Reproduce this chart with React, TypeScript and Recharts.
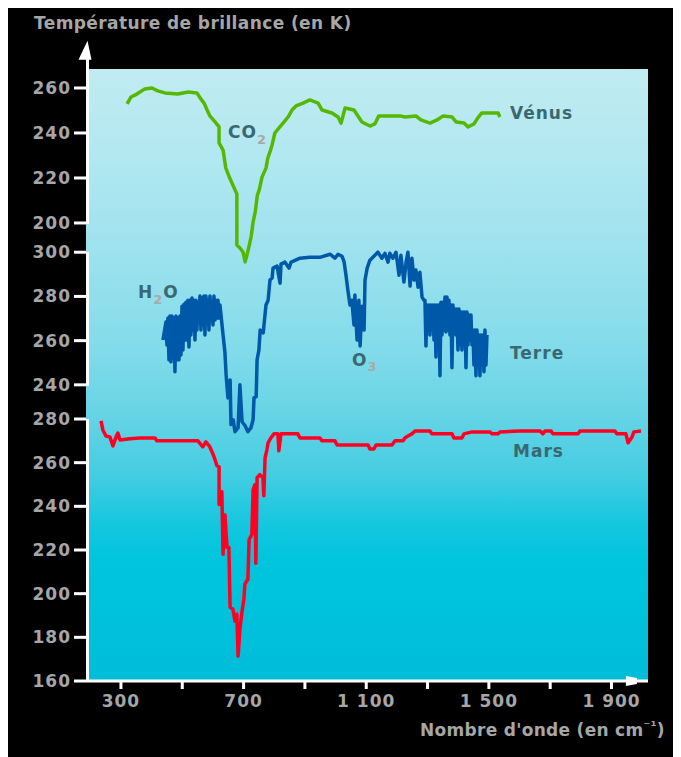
import {
  CartesianGrid,
  Line,
  LineChart,
  ReferenceLine,
  XAxis,
  YAxis,
} from "recharts";

const WIDTH = 681;
const HEIGHT = 757;
// plot area: x 86..648, y 69..681
const MARGIN = { top: 69, right: 33, bottom: 46, left: 26 };
const X_DOMAIN: [number, number] = [186, 2019];

const xTicks = [300, 500, 700, 900, 1100, 1300, 1500, 1700, 1900];
const xTickLabels: Record<number, string> = {
  300: "300",
  700: "700",
  1100: "1 100",
  1500: "1 500",
  1900: "1 900",
};

const venusTicks = [200, 220, 240, 260];
const terreTicks = [240, 260, 280, 300];
const marsTicks = [160, 180, 200, 220, 240, 260, 280];

// each curve sits on its own temperature scale
const venusDomain: [number, number] = [-3.56, 268.44];
const terreDomain: [number, number] = [106, 382.9];
const marsDomain: [number, number] = [160, 440.3];

const venusWn = [
  320, 333, 352, 378, 401, 420, 443, 486, 519, 548, 558, 571, 581, 590, 607,
  620, 620, 633, 642, 652, 662, 672, 678, 678, 688, 698, 705, 711, 718, 725,
  731, 738, 745, 751, 760, 773, 779, 786, 793, 802, 815, 832, 845, 858, 871,
  894, 916, 943, 956, 988, 1008, 1018, 1031, 1060, 1073, 1086, 1112, 1128,
  1141, 1210, 1226, 1262, 1278, 1308, 1331, 1351, 1380, 1393, 1419, 1432,
  1451, 1464, 1477, 1530, 1536,
];
const venusK = [
  252.9, 256.0, 257.3, 259.6, 260, 258.7, 257.8, 257.3, 258.2, 257.8, 255.6,
  253.3, 250.2, 247.6, 244.9, 242.7, 235.6, 232.4, 224.4, 220.9, 217.8, 214.7,
  212.9, 190.2, 188.9, 187.1, 182.7, 185.8, 189.8, 194.2, 200.4, 204.9, 212.4,
  214.7, 220.4, 224.4, 228.9, 231.6, 234.7, 240, 242.2, 244.9, 247.1, 250.2,
  252, 253.3, 254.7, 253.3, 250.2, 248.9, 247.1, 244.4, 251.1, 250.2, 247.6,
  244.9, 243.1, 244, 247.6, 247.6, 247.1, 247.6, 245.8, 244.4, 245.8, 247.6,
  247.1, 244.9, 244.4, 242.7, 244, 246.7, 248.9, 248.9, 247.1,
];

const terreWn = [
  437, 446.8, 450.0, 453.3, 456.6, 459.8, 463.1, 466.3, 469.6, 472.9, 476.1,
  479.4, 482.7, 485.9, 489.2, 492.4, 495.7, 499.0, 502.2, 505.5, 508.7, 512.0,
  515.3, 518.5, 521.8, 525.1, 528.3, 531.6, 534.8, 538.1, 541.4, 544.6, 547.9,
  551.1, 554.4, 557.7, 560.9, 564.2, 567.5, 570.7, 574.0, 577.2, 580.5, 583.8,
  587.0, 590.3, 593.5, 596.8, 600.1, 603.3, 606.6, 609.8, 613.1, 616.4, 619.6,
  622.9, 633, 639, 643, 649, 656, 659, 666, 672, 682, 688, 695, 705, 714, 724,
  731, 734, 741, 744, 750, 754, 764, 773, 780, 786, 793, 796, 809, 819, 822,
  835, 848, 855, 884, 916, 949, 982, 998, 1008, 1021, 1028, 1034, 1040, 1047,
  1053, 1060, 1063, 1070, 1076, 1080, 1086, 1093, 1096, 1103, 1112, 1125,
  1138, 1151, 1161, 1171, 1177, 1187, 1197, 1207, 1213, 1223, 1230, 1236,
  1243, 1249, 1256, 1262, 1269, 1275, 1282, 1288, 1291.5, 1294.8, 1298.0,
  1301.3, 1304.6, 1307.8, 1311.1, 1314.4, 1317.6, 1320.9, 1324.1, 1327.4,
  1330.7, 1333.9, 1337.2, 1340.5, 1343.7, 1347.0, 1350.2, 1353.5, 1356.8,
  1360.0, 1363.3, 1366.5, 1369.8, 1373.1, 1376.3, 1379.6, 1382.9, 1386.1,
  1389.4, 1392.6, 1395.9, 1399.2, 1402.4, 1405.7, 1409.0, 1412.2, 1415.5,
  1418.7, 1422.0, 1425.3, 1428.5, 1431.8, 1435.0, 1438.3, 1441.6, 1444.8,
  1448.1, 1451.3, 1454.6, 1457.9, 1461.1, 1464.4, 1467.7, 1470.9, 1474.2,
  1477.4, 1480.7, 1484.0, 1487.2, 1490.5, 1493.8,
];
const terreK = [
  260.3, 268.4, 258.0, 270.2, 251.3, 271.1, 250.4, 271.1, 252.2, 270.2, 245.9,
  271.1, 251.3, 270.2, 251.3, 271.1, 253.5, 275.6, 255.8, 276.5, 260.3, 277.4,
  260.3, 278.3, 257.1, 278.3, 262.6, 279.3, 264.8, 278.3, 260.3, 278.3, 264.8,
  277.4, 269.3, 280.2, 264.8, 279.3, 267.1, 280.2, 262.6, 280.2, 268.4, 278.3,
  264.8, 280.2, 271.1, 277.4, 267.1, 280.2, 269.3, 278.3, 270.2, 278.3, 270.2,
  276.1, 262.6, 254.9, 244.5, 234.1, 242.2, 222, 224.2, 218.8, 220.6, 240,
  223.3, 221.5, 218.8, 220.6, 224.2, 234.1, 234.6, 251.3, 255.8, 264.8, 263.5,
  276.1, 278.3, 287.4, 288.3, 292.8, 293.7, 286, 294.6, 295.5, 292.8, 295.5,
  297.3, 297.7, 297.7, 299.1, 297.3, 299.1, 298.2, 295.5, 289.6, 282.9, 276.1,
  278.3, 267.1, 280.6, 260.3, 278.3, 257.6, 275.6, 264.8, 287.4, 292.8, 296.4,
  298.2, 300, 297.3, 299.5, 295.5, 299.5, 297.3, 300, 289.6, 298.6, 286.5,
  295.5, 300, 284.7, 297.3, 287.4, 292, 284.2, 290.9, 279.7, 278.3, 278.3,
  257.6, 276.1, 264.8, 276.1, 262.6, 276.1, 264.8, 276.1, 260.3, 276.1, 252.6,
  276.1, 262.6, 276.1, 244.1, 277.4, 262.6, 277.4, 264.8, 279.7, 263.9, 279.7,
  264.8, 278.3, 262.6, 276.1, 247.7, 276.1, 264.8, 274.3, 262.6, 274.3, 255.8,
  274.3, 258.1, 272.9, 255.8, 272.9, 260.3, 272.9, 247.7, 272.9, 258.1, 271.6,
  260.3, 271.6, 258.1, 264.8, 249.0, 264.8, 244.1, 264.8, 249.0, 262.6, 244.1,
  262.6, 249.0, 262.6, 245.9, 264.8, 249.0, 262.6,
];

const marsWn = [
  235, 241, 251, 264, 274, 284, 290, 297, 329, 362, 411, 417, 551, 567, 577,
  590, 600, 607, 613, 620, 620, 629, 633, 639, 646, 652, 656, 665, 672, 678,
  682, 688, 695, 701, 704, 714, 718, 727, 731, 737, 740, 744, 753, 763, 766,
  770, 776, 780, 789, 799, 812, 815, 822, 877, 884, 949, 956, 998, 1005, 1106,
  1112, 1125, 1132, 1184, 1194, 1220, 1226, 1236, 1249, 1259, 1308, 1314, 1380,
  1386, 1412, 1419, 1445, 1504, 1510, 1530, 1536, 1601, 1667, 1676, 1683, 1703,
  1709, 1791, 1797, 1911, 1918, 1947, 1954, 1967, 1973, 1996,
];
const marsK = [
  279.1, 275, 272.2, 271.8, 267.7, 271.8, 273.6, 270.4, 270.9, 271.3, 271.3,
  270, 270, 267.2, 269.5, 267.2, 264, 261.3, 258.6, 258.1, 240.8, 246.7, 218,
  236.2, 221.2, 221.2, 193.8, 192.9, 187.4, 190.6, 171.4, 183.7, 192, 197.4,
  204.3, 206.6, 224.8, 227.1, 247.6, 249.9, 213.9, 253.1, 254.5, 253.1, 244.9,
  262.2, 265.9, 269.1, 271.3, 273.2, 273.2, 265.4, 273.2, 273.2, 271.3, 271.3,
  270, 270, 268.1, 268.1, 266.3, 266.3, 268.1, 268.1, 270, 270, 271.3, 272.2,
  273.2, 274.5, 274.5, 273.2, 273.2, 271.3, 271.3, 273.2, 274.1, 274.1, 273.2,
  273.2, 274.1, 274.5, 274.5, 273.2, 274.5, 274.5, 273.2, 273.2, 274.5, 274.5,
  273.2, 273.2, 269.1, 271.8, 274.1, 274.5,
];

const toRows = (wn: number[], k: number[]) =>
  wn.map((w, i) => ({ wn: w, k: k[i] }));

const AXIS_GREY = "#a6a6a6";
const LABEL_INK = "#3a6870";
const SUB_GREY = "#a9a9a9";

// white vertical axis piece, optionally capped with an arrow head
function AxisPiece(props: any) {
  const { x1, y1, y2, arrow } = props;
  const x = x1 + 1.5;
  const top = Math.min(y1, y2);
  const bottom = Math.max(y1, y2);
  if (!arrow) {
    return <line x1={x} y1={top} x2={x} y2={bottom + 1} stroke="#fff" strokeWidth={3} />;
  }
  return (
    <g>
      <line x1={x} y1={top + 18} x2={x} y2={bottom + 1} stroke="#fff" strokeWidth={3} />
      <polygon
        points={`${x},${top} ${x - 9},${top + 19} ${x + 4},${top + 19}`}
        fill="#fff"
      />
    </g>
  );
}

function XArrow(props: any) {
  const { x1, x2, y1 } = props;
  return (
    <polygon
      points={`${x1},${y1 - 5} ${x2},${y1 - 3} ${x2},${y1 + 3} ${x1},${y1 + 5}`}
      fill="#fff"
    />
  );
}

interface PanelProps {
  rows: { wn: number; k: number }[];
  color: string;
  domain: [number, number];
  ticks: number[];
  axisFrom: number;
  axisTo: number;
  arrow?: boolean;
  base?: boolean;
}

function Panel({ rows, color, domain, ticks, axisFrom, axisTo, arrow, base }: PanelProps) {
  return (
    <div style={{ position: "absolute", left: 0, top: 0 }}>
      <LineChart width={WIDTH} height={HEIGHT} data={rows} margin={MARGIN}>
        <defs>
          <linearGradient id="sky" x1="0" y1="0" x2="0" y2="1">
            <stop offset="0%" stopColor="#c1ebf1" />
            <stop offset="13%" stopColor="#b3e8f1" />
            <stop offset="30%" stopColor="#9de2ee" />
            <stop offset="46%" stopColor="#82dbea" />
            <stop offset="57%" stopColor="#64d3e5" />
            <stop offset="66%" stopColor="#46cde2" />
            <stop offset="74%" stopColor="#16c7df" />
            <stop offset="80%" stopColor="#00c5dd" />
            <stop offset="100%" stopColor="#00bdd9" />
          </linearGradient>
        </defs>
        {base && (
          <CartesianGrid horizontal={false} vertical={false} fill="url(#sky)" />
        )}
        {base ? (
          <XAxis
            type="number"
            dataKey="wn"
            domain={X_DOMAIN}
            allowDataOverflow
            ticks={xTicks}
            interval={0}
            height={30}
            tickFormatter={(v: number) => xTickLabels[v] ?? ""}
            axisLine={{ stroke: "#fff", strokeWidth: 3 }}
            tickLine={{ stroke: "#fff", strokeWidth: 3 }}
            tickSize={8}
            tickMargin={6}
            tick={{ fill: AXIS_GREY, fontSize: 17 }}
          />
        ) : (
          <XAxis
            type="number"
            dataKey="wn"
            domain={X_DOMAIN}
            allowDataOverflow
            height={30}
            tick={false}
            tickLine={false}
            axisLine={false}
          />
        )}
        <YAxis
          type="number"
          domain={domain}
          allowDataOverflow
          ticks={ticks}
          interval={0}
          width={60}
          axisLine={false}
          tickLine={{ stroke: "#fff", strokeWidth: 3 }}
          tickSize={12}
          tickMargin={3}
          tick={{ fill: AXIS_GREY, fontSize: 17 }}
        />
        <ReferenceLine
          segment={[
            { x: X_DOMAIN[0], y: axisFrom },
            { x: X_DOMAIN[0], y: axisTo },
          ]}
          ifOverflow="visible"
          shape={(p: any) => <AxisPiece {...p} arrow={arrow} />}
        />
        {base && (
          <ReferenceLine
            segment={[
              { x: 1947, y: domain[0] },
              { x: 1983, y: domain[0] },
            ]}
            ifOverflow="visible"
            shape={(p: any) => <XArrow {...p} />}
          />
        )}
        <Line
          type="linear"
          dataKey="k"
          stroke={color}
          strokeWidth={3.5}
          strokeLinejoin="round"
          dot={false}
          isAnimationActive={false}
        />
      </LineChart>
    </div>
  );
}

export default function App() {
  return (
    <div
      style={{
        position: "relative",
        width: WIDTH,
        height: HEIGHT,
        margin: "-8px 0 0 -8px",
        background: "#fff",
        fontFamily: "'DejaVu Sans', sans-serif",
        fontWeight: 700,
        letterSpacing: "1px",
        overflow: "hidden",
      }}
    >
      <div
        style={{
          position: "absolute",
          left: 7,
          top: 5,
          width: WIDTH - 7,
          height: HEIGHT - 5,
          background: "#000",
        }}
      />
      <Panel
        rows={toRows(marsWn, marsK)}
        color="#ff0022"
        domain={marsDomain}
        ticks={marsTicks}
        axisFrom={160}
        axisTo={280}
        base
      />
      <Panel
        rows={toRows(terreWn, terreK)}
        color="#0058a8"
        domain={terreDomain}
        ticks={terreTicks}
        axisFrom={240}
        axisTo={300}
      />
      <Panel
        rows={toRows(venusWn, venusK)}
        color="#55b800"
        domain={venusDomain}
        ticks={venusTicks}
        axisFrom={200}
        axisTo={281}
        arrow
      />
      <svg
        width={WIDTH}
        height={HEIGHT}
        style={{ position: "absolute", left: 0, top: 0, pointerEvents: "none" }}
        fontSize={17}
      >
        <text x={34} y={29} fill={AXIS_GREY} letterSpacing={0.4}>
          Température de brillance (en K)
        </text>
        <text x={420} y={736} fill={AXIS_GREY} letterSpacing={0.3}>
          Nombre d'onde (en cm
          <tspan fill={SUB_GREY} fontSize={13} dy={-6}>⁻¹</tspan>
          <tspan dy={6}>)</tspan>
        </text>
        <text x={510} y={119} fill={LABEL_INK}>Vénus</text>
        <text x={510} y={359} fill={LABEL_INK}>Terre</text>
        <text x={513} y={457} fill={LABEL_INK}>Mars</text>
        <text x={228} y={138} fill={LABEL_INK}>
          CO
          <tspan fill={SUB_GREY} fontSize={13} dy={6}>2</tspan>
        </text>
        <text x={138} y={298} fill={LABEL_INK}>
          H
          <tspan fill={SUB_GREY} fontSize={13} dy={6}>2</tspan>
          <tspan dy={-6}>O</tspan>
        </text>
        <text x={352} y={366} fill={LABEL_INK}>
          O
          <tspan fill={SUB_GREY} fontSize={13} dy={5}>3</tspan>
        </text>
      </svg>
    </div>
  );
}
